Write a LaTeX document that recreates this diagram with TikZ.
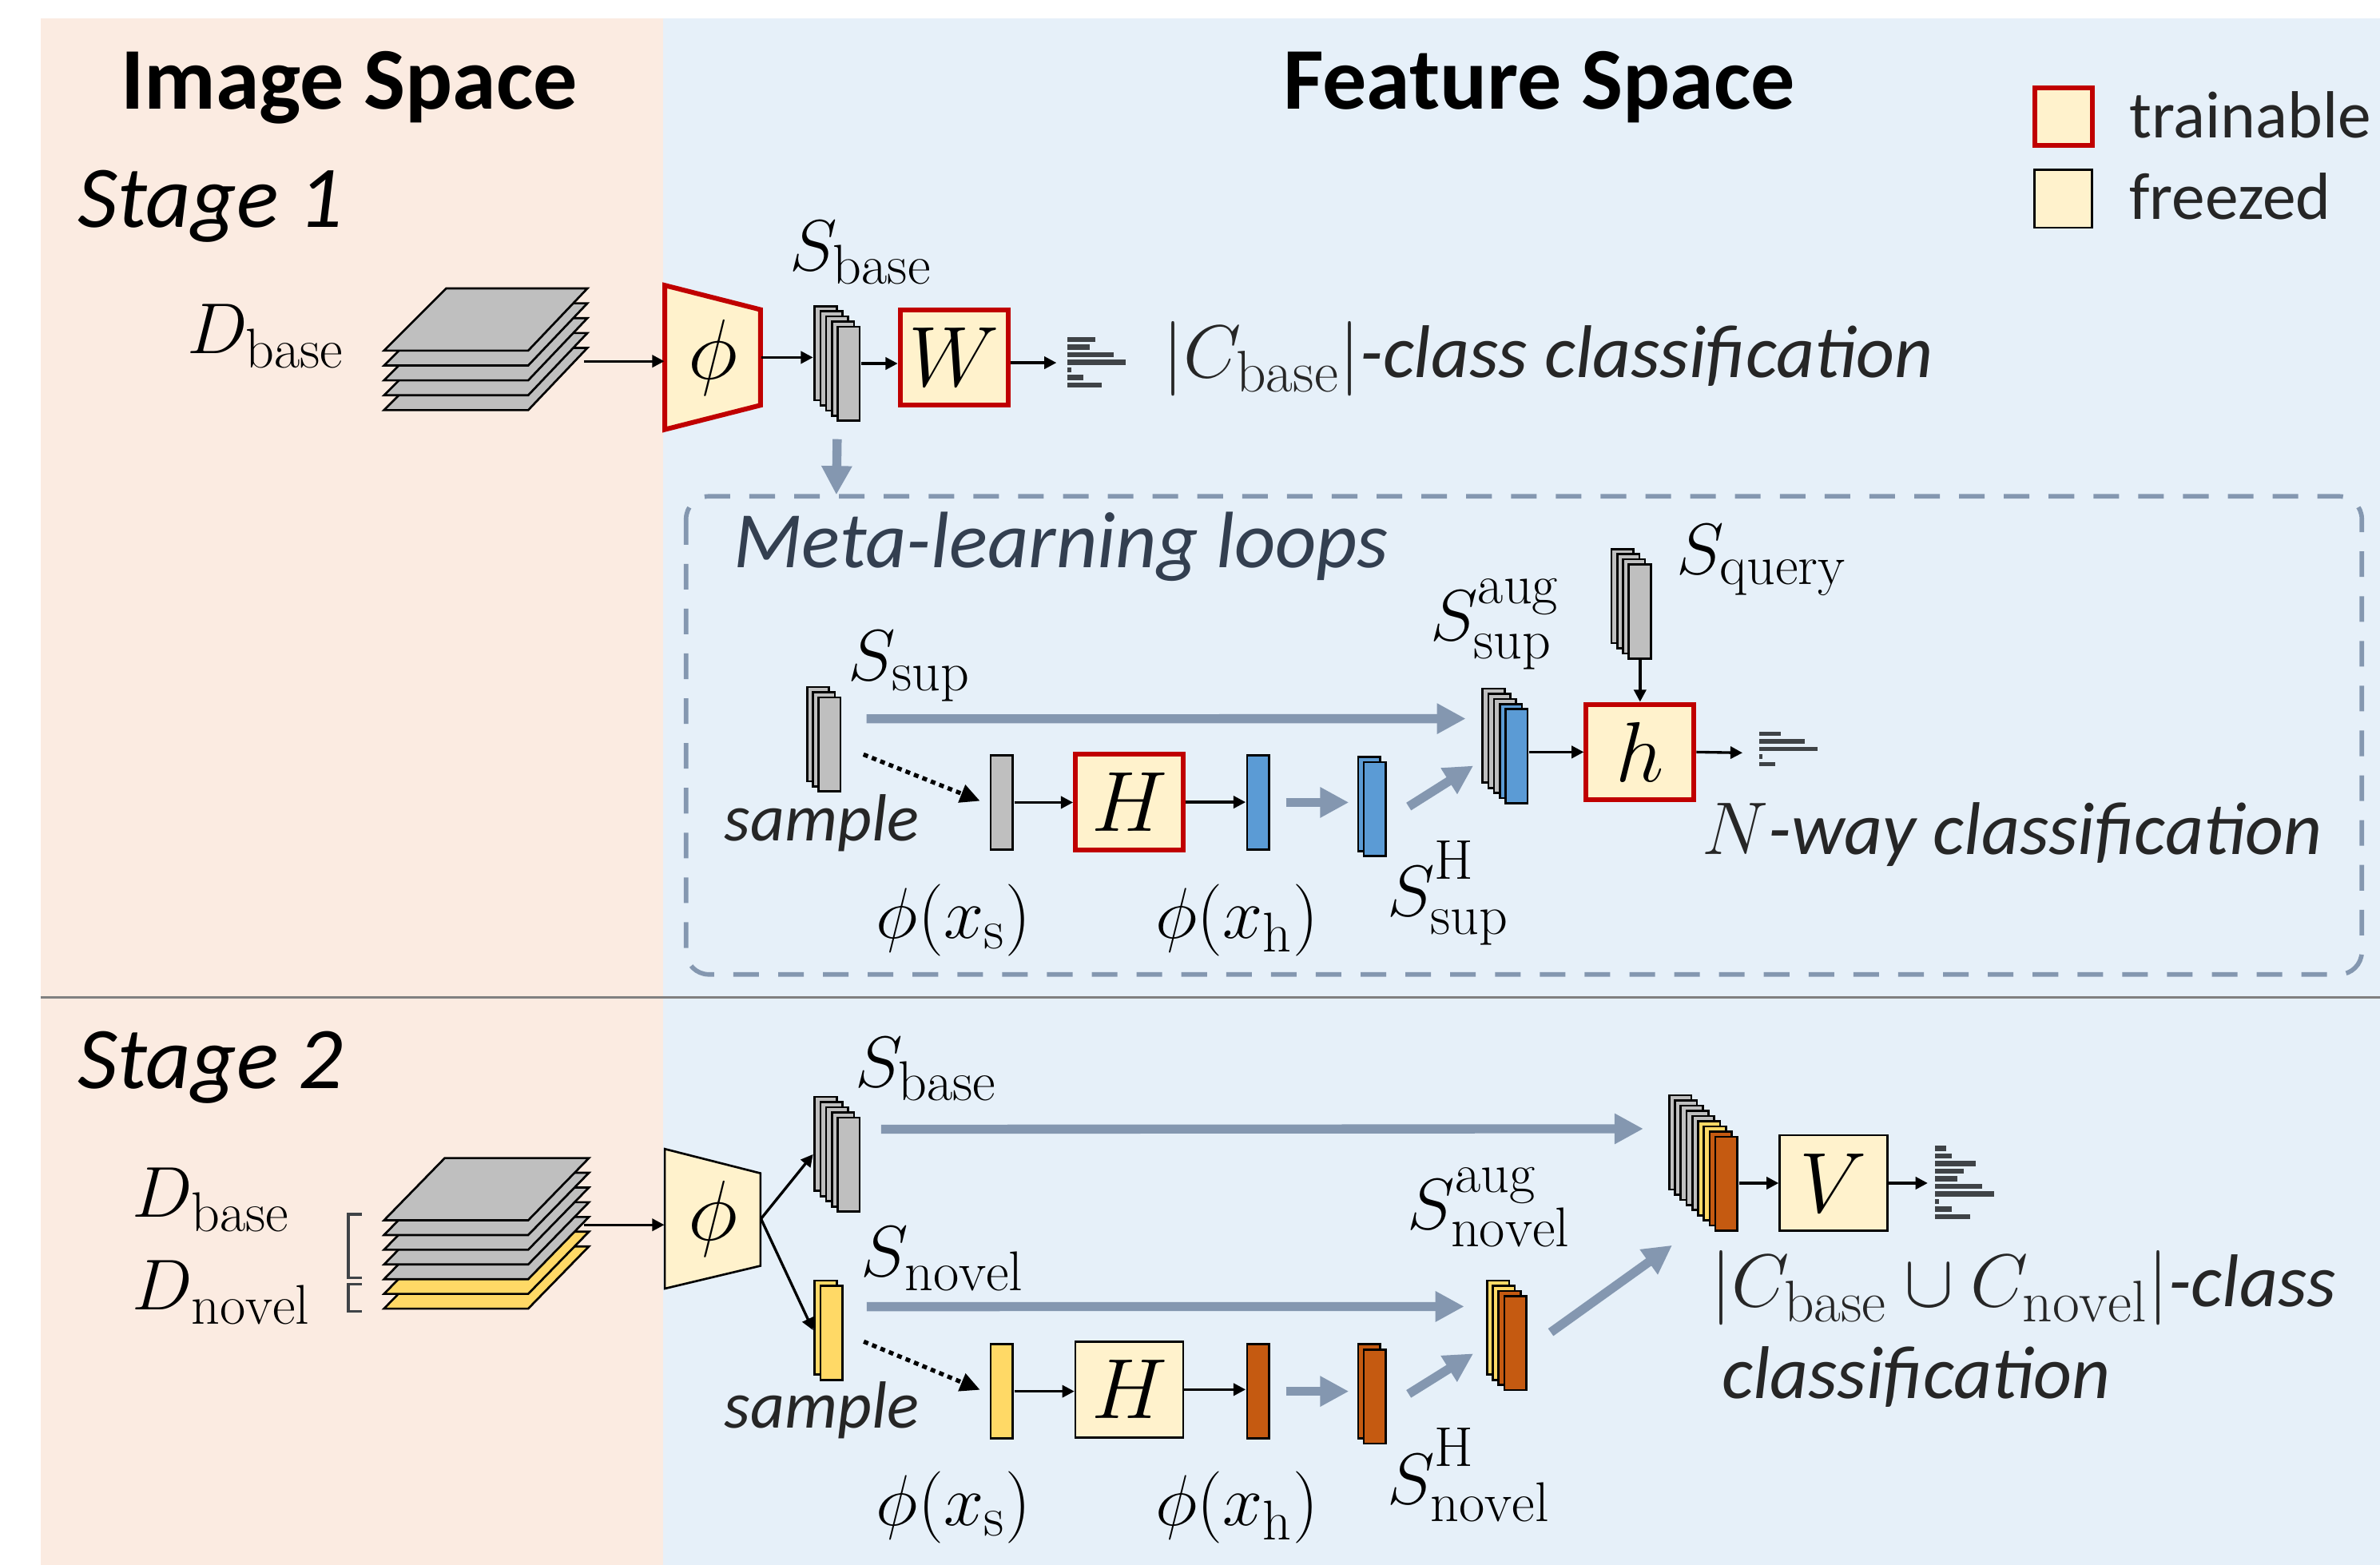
\RequirePackage{fix-cm}
\documentclass[tikz,border=0pt]{standalone}
\usepackage{fontspec}
\setsansfont{Carlito}
\usetikzlibrary{arrows.meta,calc,fit}
\DeclareMathSizes{27}{27}{21}{15}
\DeclareMathSizes{28}{28}{22}{16}
\DeclareMathSizes{32}{32}{24}{18}

\definecolor{imgbg}{HTML}{FBEBE1}
\definecolor{featbg}{HTML}{E6F0F9}
\definecolor{boxfill}{HTML}{FFF2CC}
\definecolor{trainred}{HTML}{C00000}
\definecolor{featgray}{HTML}{BFBFBF}
\definecolor{featblue}{HTML}{5B9BD5}
\definecolor{featyellow}{HTML}{FFD966}
\definecolor{featorange}{HTML}{C55A11}
\definecolor{flowgray}{HTML}{8497B0}
\definecolor{inkgray}{HTML}{262626}
\definecolor{histgray}{HTML}{3F4347}
\definecolor{loopink}{HTML}{333F50}
\definecolor{rulegray}{HTML}{808080}

% stack of feature maps: name, top-left of back map, colours front-most last
\newcommand{\featstack}[4]{%
  \foreach \col [count=\k from 0] in {#4} {
    \node[featrect,fill=\col] (#1-\k) at ({#2+3.8*\k},{#3+3.4*\k}) {};
    \xdef\stacklast{\k}
  }
  \node[fit=(#1-0)(#1-\stacklast),inner sep=0pt] (#1) {};
}
% little score histogram: left x, top y, bar thickness, bar lengths
\newcommand{\histbars}[4]{%
  \foreach \l [count=\k from 0] in {#4}
    \fill[histbar] (#1,{#2+5*\k}) rectangle ++(\l,#3);
}
% raised upright superscript
\newcommand{\upsc}[1]{\raisebox{4pt}{$\scriptstyle\mathrm{#1}$}}

\begin{document}
\begin{tikzpicture}[x=0.02cm,y=-0.02cm]
\tikzset{
  trainable/.style={draw=trainred,line width=1.8pt,fill=boxfill,minimum width=1.42cm,minimum height=1.26cm,inner sep=0pt,font=\fontsize{32}{38}\selectfont},
  freezed/.style={draw=black,line width=0.8pt,fill=boxfill,minimum width=1.42cm,minimum height=1.26cm,inner sep=0pt,font=\fontsize{32}{38}\selectfont},
  featrect/.style={draw,line width=0.8pt,minimum width=0.29cm,minimum height=1.24cm,inner sep=0pt,anchor=north west},
  imglayer/.style={draw,line width=0.8pt},
  encoder/.style={minimum width=1.26cm,minimum height=1.86cm,inner sep=0pt,font=\fontsize{32}{38}\selectfont},
  arr/.style={-{Triangle[length=1.6mm,width=1.6mm]},line width=1pt},
  dotarr/.style={-{Triangle[length=2.6mm,width=2.4mm]},line width=1.6pt,dash pattern=on 1.8pt off 1.6pt},
  flow/.style={-{Triangle[length=3.8mm,width=3.8mm]},line width=3.4pt,draw=flowgray},
  histbar/.style={fill=histgray},
  mlabel/.style={inner sep=0pt,font=\fontsize{27}{32}\selectfont},
  note/.style={inner sep=0pt,text=inkgray,font=\sffamily\itshape\fontsize{28}{34}\selectfont},
  heading/.style={inner sep=0pt,font=\sffamily\bfseries\fontsize{33}{40}\selectfont},
  stagetitle/.style={inner sep=0pt,font=\sffamily\itshape\fontsize{33}{40}\selectfont},
  legendtext/.style={inner sep=0pt,text=inkgray,font=\sffamily\fontsize{25}{30}\selectfont}
}
\useasboundingbox (0,0) rectangle (1568,1031);

% panels
\fill[imgbg] (26.6,12) rectangle (437,1031);
\fill[featbg] (437,12) rectangle (1568,1031);
\draw[rulegray,line width=0.9pt] (26.6,657) -- (1568,657);
\draw[flowgray,line width=1.7pt,dash pattern=on 9.6pt off 7.2pt,rounded corners=0.3cm] (452,327) rectangle (1556,642);

\node[heading,anchor=base] (imgspace) at (230,72) {Image Space};
\node[heading,anchor=base] (featspace) at (1014,72) {Feature Space};
\node[stagetitle,anchor=base west] (stage1) at (51,150) {Stage 1};
\node[stagetitle,anchor=base west] (stage2) at (51,717) {Stage 2};

% legend
\node[trainable,minimum width=0.76cm,minimum height=0.76cm] (legtrain) at (1359.5,76.8) {};
\node[freezed,minimum width=0.76cm,minimum height=0.76cm] (legfreeze) at (1359.3,131) {};
\node[legendtext,anchor=base west] (legtraintext) at (1402.6,91) {trainable};
\node[legendtext,anchor=base west] (legfreezetext) at (1402.6,144.7) {freezed};

%% stage 1
\foreach \k in {4,3,2,1,0}
  \draw[imglayer,fill=featgray] (294,190+9.8*\k) -- ++(93,0) -- ++(-39,41) -- ++(-95,0) -- cycle;
\coordinate (img1) at (385,238);
\node[mlabel,anchor=base west] (ldbase1) at (123,233) {$D_{\mathrm{base}}$};

\draw[draw=trainred,line width=1.8pt,fill=boxfill] (438,188) -- (501,204) -- (501,267) -- (438,283) -- cycle;
\node[encoder] (phi1) at (469.5,235.5) {$\phi$};
\featstack{sbase1}{536}{201}{featgray,featgray,featgray,featgray,featgray}
\node[mlabel,anchor=base west] (lsbase1) at (520,178) {$S_{\mathrm{base}}$};
\node[trainable] (W) at (628.5,235.5) {$W$};
\coordinate (hist1) at (696,239);
\histbars{703}{222}{3.5}{18.8,14.7,30.5,38.6,2.6,10.9,22.8}
\node[note,anchor=base west] (cls1) at (766,248.5) {$\vert C_{\mathrm{base}}\vert$-class classification};

\draw[arr] (img1) -- (img1 -| phi1.west);
\draw[arr] (phi1.east) -- (phi1.east -| sbase1.west);
\draw[arr] (sbase1.east) -- (sbase1.east -| W.west);
\draw[arr] (W.east |- hist1) -- (hist1);

% meta-learning loops
\coordinate (loopin) at (551,326);
\draw[flow] ($(sbase1.south)+(0,11)$) -- (loopin);
\node[inner sep=0pt,anchor=base west,text=loopink,font=\sffamily\itshape\fontsize{30}{36}\selectfont] (looptitle) at (483,374) {Meta-learning loops};

\featstack{ssup}{531}{452}{featgray,featgray,featgray}
\node[mlabel,anchor=base west] (lssup) at (558.5,448) {$S_{\mathrm{sup}}$};
\node[note,anchor=base west,font=\sffamily\itshape\fontsize{25}{30}\selectfont] (sample1) at (477,554) {sample};
\featstack{phixs1}{652}{497}{featgray}
\node[trainable] (H1) at (744,528.5) {$H$};
\featstack{phixh1}{821}{497}{featblue}
\featstack{ssupH}{894}{498}{featblue,featblue}
\featstack{ssupaug}{976}{453}{featgray,featgray,featgray,featblue,featblue}
\featstack{squery}{1061}{361}{featgray,featgray,featgray,featgray}
\node[trainable] (h) at (1080.5,495.5) {$h$};
\coordinate (hist2) at (1148,496);
\histbars{1159}{482}{2.8}{14.1,30.2,38.3,2,10.5}

\node[mlabel,anchor=base west] (lxs1) at (577,618) {$\phi(x_{\mathrm{s}})$};
\node[mlabel,anchor=base west] (lxh1) at (761,618) {$\phi(x_{\mathrm{h}})$};
\node[mlabel,anchor=base west] (lssupH) at (913.6,603.6) {$S^{\upsc{H}}_{\mathrm{sup}}$};
\node[mlabel,anchor=base west] (lssupaug) at (942,422) {$S^{\upsc{aug}}_{\mathrm{sup}}$};
\node[mlabel,anchor=base west] (lsquery) at (1104,378) {$S_{\mathrm{query}}$};
\node[note,anchor=base west] (nway) at (1121,563) {$N$-way classification};

\draw[flow] ($(ssup.east)+(16,-13.5)$) -- ($(ssupaug.west)+(-10,-18)$);
\draw[dotarr] ($(ssup.east)+(14,10)$) -- ($(phixs1.west)+(-6,-1)$);
\draw[arr] (phixs1.east) -- (phixs1.east -| H1.west);
\draw[arr] (H1.east) -- (H1.east -| phixh1.west);
\draw[flow] ($(phixh1.east)+(10,0)$) -- ($(phixh1.east -| ssupH.west)+(-5,0)$);
\draw[flow] ($(ssupH.east)+(14,0)$) -- ($(ssupaug.west)+(-5,13)$);
\draw[arr] (ssupaug.east |- h.west) -- (h.west);
\draw[arr] (h.north |- squery.south) -- (h.north);
\draw[arr] (h.east) -- (hist2);

%% stage 2
\foreach \k/\col in {6/featyellow,5/featyellow,4/featgray,3/featgray,2/featgray,1/featgray,0/featgray}
  \draw[imglayer,fill=\col] (293,763+9.7*\k) -- ++(95,0) -- ++(-40,41) -- ++(-95,0) -- cycle;
\coordinate (img2) at (385,807);
\draw[histgray,line width=1pt] (238.5,800) -- (229.5,800) -- (229.5,842) -- (238.5,842);
\draw[histgray,line width=1pt] (238.5,846) -- (229.5,846) -- (229.5,864) -- (238.5,864);
\node[mlabel,anchor=base west] (ldbase2) at (87,802) {$D_{\mathrm{base}}$};
\node[mlabel,anchor=base west] (ldnovel) at (87,863) {$D_{\mathrm{novel}}$};

\draw[line width=0.8pt,fill=boxfill] (438,757) -- (501,773) -- (501,834) -- (438,849) -- cycle;
\node[encoder] (phi2) at (469.5,803) {$\phi$};
\featstack{sbase2}{536}{722}{featgray,featgray,featgray,featgray,featgray}
\featstack{snovel}{536}{843}{featyellow,featyellow}
\node[mlabel,anchor=base west] (lsbase2) at (563,716) {$S_{\mathrm{base}}$};
\node[mlabel,anchor=base west] (lsnovel) at (567,841) {$S_{\mathrm{novel}}$};
\node[note,anchor=base west,font=\sffamily\itshape\fontsize{25}{30}\selectfont] (sample2) at (477,941) {sample};

\featstack{phixs2}{652}{885}{featyellow}
\node[freezed] (H2) at (744,915.5) {$H$};
\featstack{phixh2}{821}{885}{featorange}
\featstack{snovelH}{894}{885}{featorange,featorange}
\featstack{snovelaug}{979}{843}{featyellow,featyellow,featorange,featorange}
\featstack{comb}{1099}{721}{featgray,featgray,featgray,featgray,featgray,featyellow,featyellow,featorange,featorange}
\node[freezed] (V) at (1208,779.5) {$V$};
\coordinate (hist3) at (1270,779.5);
\histbars{1275}{755}{3.3}{7,10.9,26.8,18.8,14.8,30.8,38.8,2.6,10.9,22.9}

\node[mlabel,anchor=base west] (lxs2) at (577,1005) {$\phi(x_{\mathrm{s}})$};
\node[mlabel,anchor=base west] (lxh2) at (761,1005) {$\phi(x_{\mathrm{h}})$};
\node[mlabel,anchor=base west] (lsnovelH) at (913.6,990.6) {$S^{\upsc{H}}_{\mathrm{novel}}$};
\node[mlabel,anchor=base west] (lsnovelaug) at (927,809.6) {$S^{\upsc{aug}}_{\mathrm{novel}}$};
\node[note,anchor=base west] (cls2a) at (1127,861) {$\vert C_{\mathrm{base}}\cup C_{\mathrm{novel}}\vert$-class};
\node[note,anchor=base west] (cls2b) at (1134,921.6) {classification};

\draw[arr] (img2) -- (img2 -| phi2.west);
\draw[arr] (phi2.east) -- (sbase2.west);
\draw[arr] (phi2.east) -- (snovel.west);
\draw[flow] ($(sbase2.east)+(13,-16.5)$) -- ($(comb.west)+(-16,-22.6)$);
\draw[flow] ($(snovel.east)+(15,-15.5)$) -- ($(snovelaug.west)+(-14,-19)$);
\draw[dotarr] ($(snovel.east)+(13,7.5)$) -- ($(phixs2.west)+(-6,-1)$);
\draw[arr] (phixs2.east) -- (phixs2.east -| H2.west);
\draw[arr] (H2.east) -- (H2.east -| phixh2.west);
\draw[flow] ($(phixh2.east)+(10,0)$) -- ($(phixh2.east -| snovelH.west)+(-5,0)$);
\draw[flow] ($(snovelH.east)+(14,0)$) -- ($(snovelaug.west)+(-8,12)$);
\draw[flow] ($(snovelaug.east)+(15,-2)$) -- ($(comb.south west)+(3,8.5)$);
\draw[arr] (comb.east |- V.west) -- (V.west);
\draw[arr] (V.east) -- (hist3);
\end{tikzpicture}
\end{document}
